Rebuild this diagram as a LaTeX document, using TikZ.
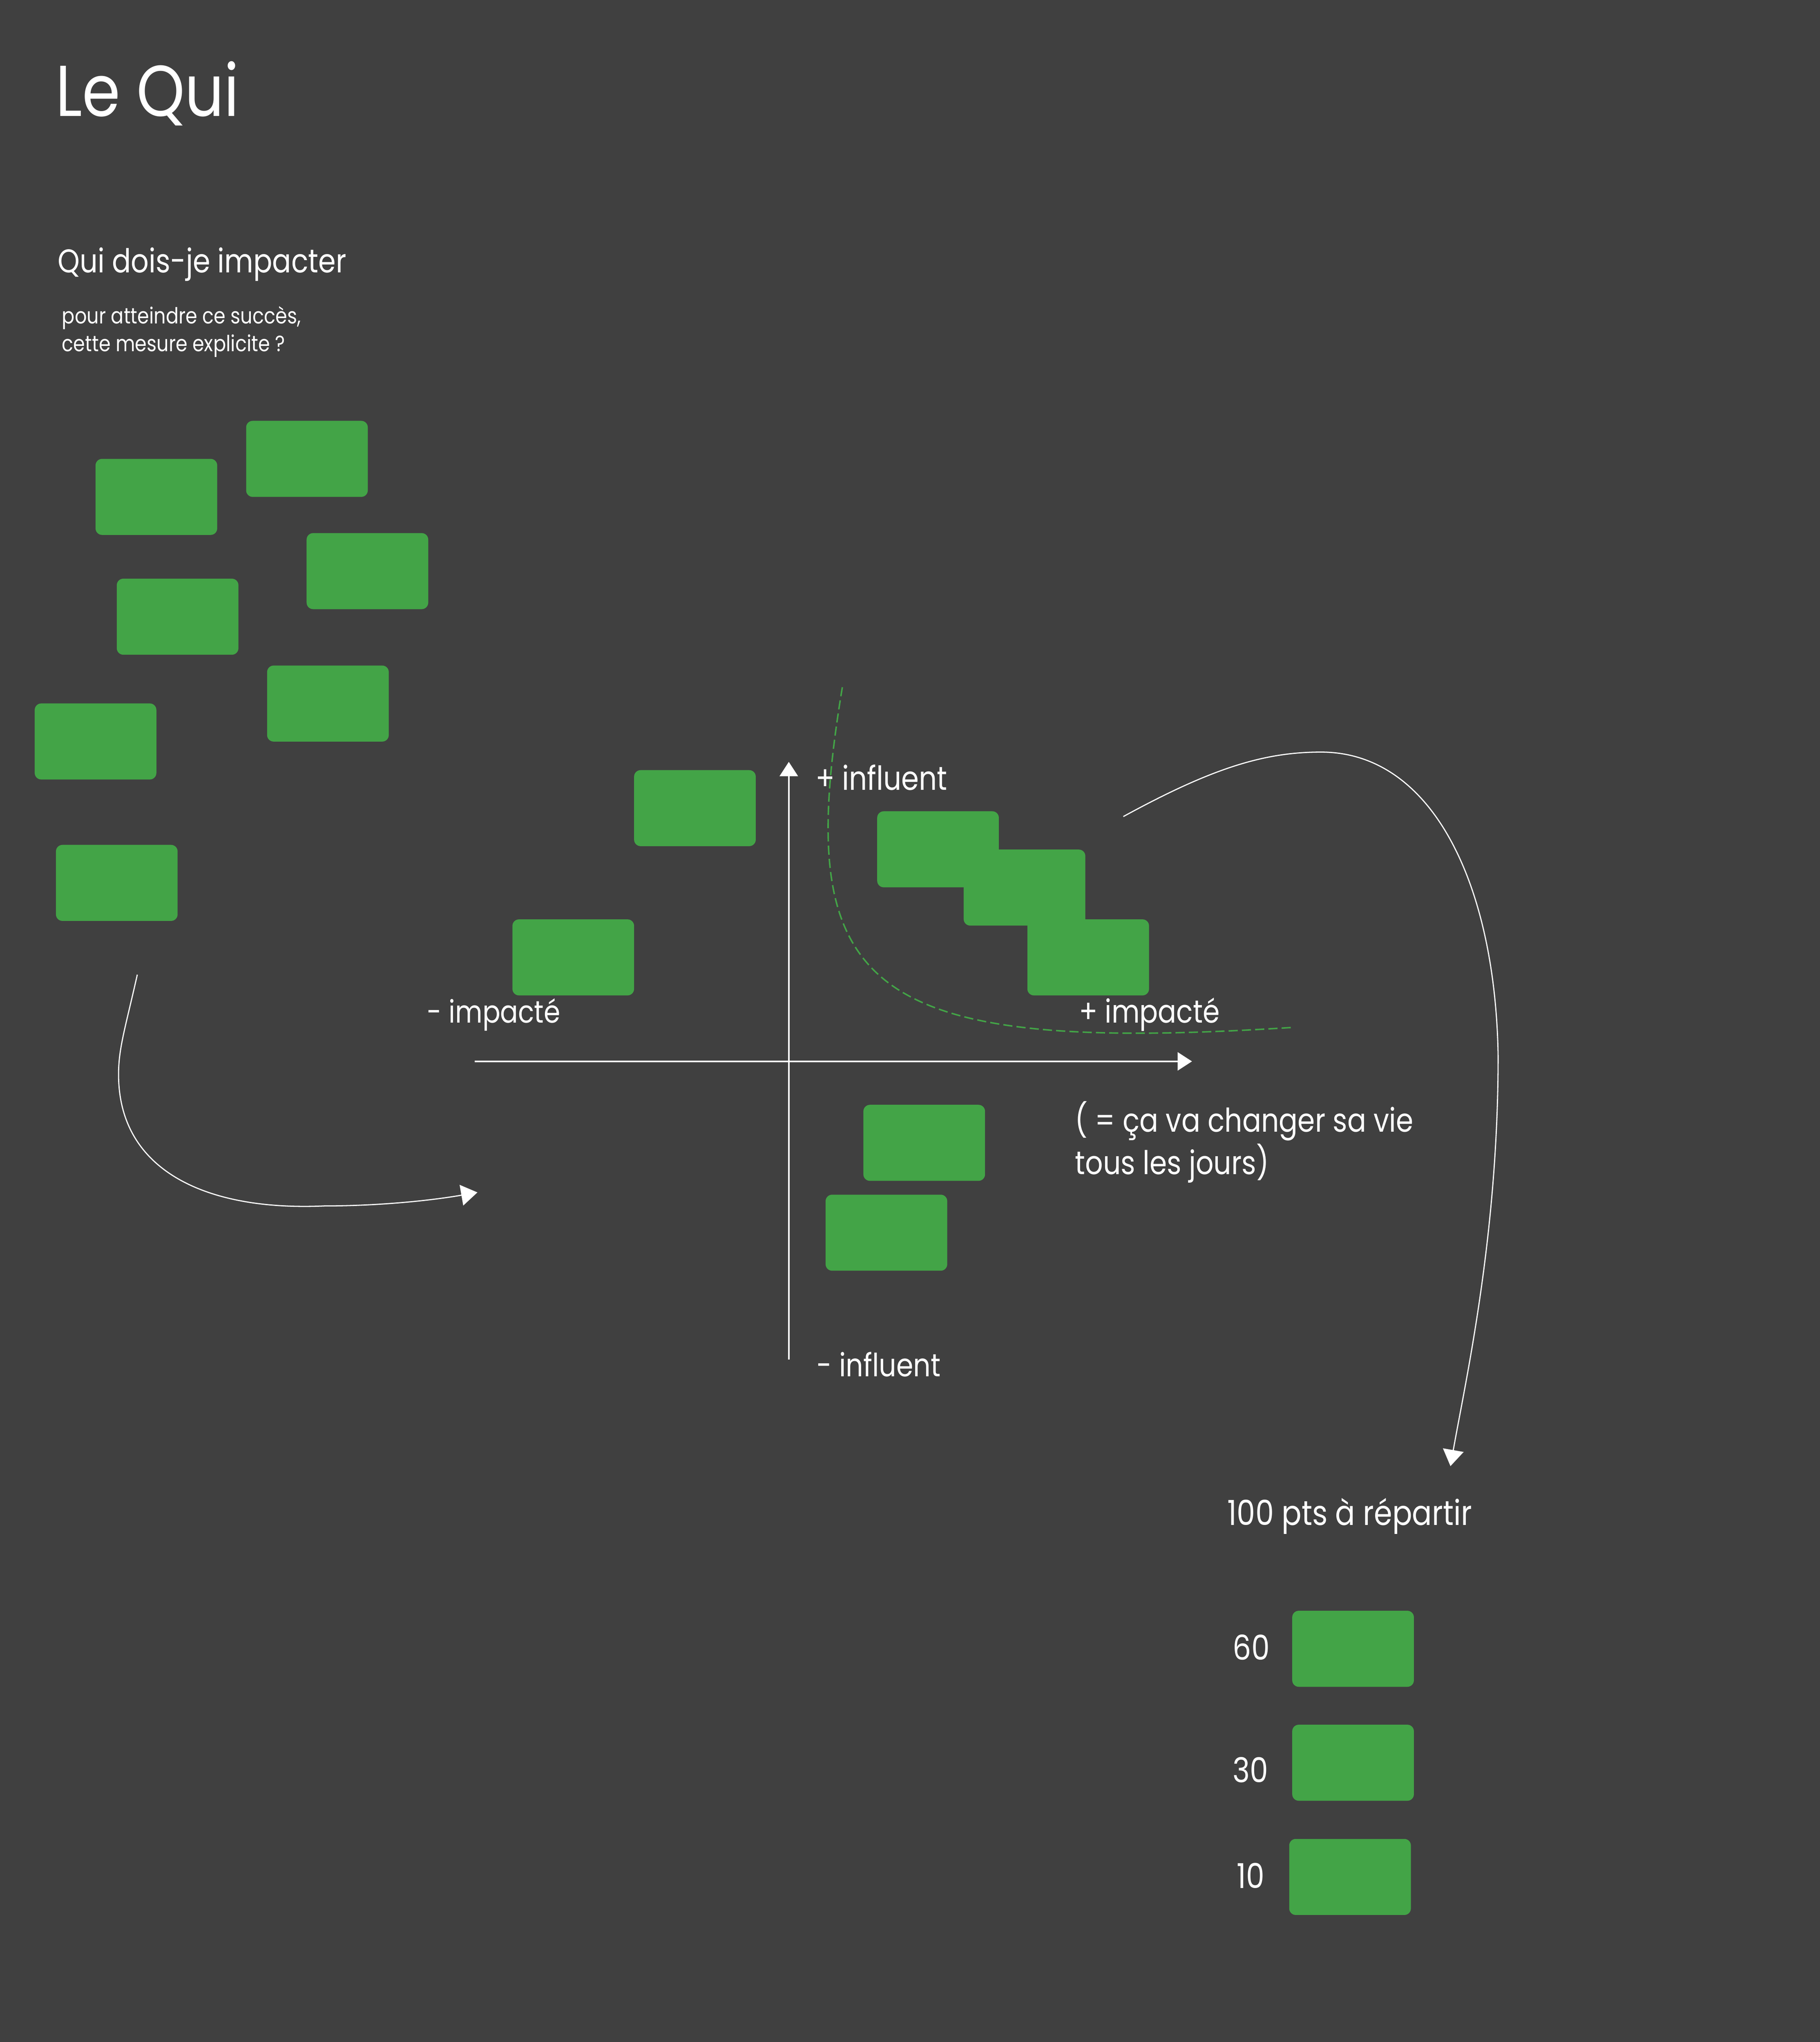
\documentclass[tikz,border=0pt]{standalone}
\usepackage{fontspec}
\setmainfont{Poppins}[FakeStretch=0.85]
\usetikzlibrary{arrows.meta}
\definecolor{slate}{HTML}{404040}
\definecolor{leaf}{HTML}{43A447}

\begin{document}
\begin{tikzpicture}[x=0.02cm, y=-0.02cm,
    card/.style={fill=leaf, rounded corners=0.1cm, minimum width=1.868cm, minimum height=1.168cm, inner sep=0pt, anchor=north west},
    txt/.style={text=white, inner sep=0pt, anchor=base west},
    axis/.style={white, line width=0.6pt, -{Triangle[length=0.22cm, width=0.28cm]}},
    swoosh/.style={white, line width=0.5pt, -{Triangle[length=0.25cm, width=0.32cm]}}]
  \fill [slate] (0,0) rectangle (1397,1568);

  % Headings
  \node [txt, font=\fontsize{31.5}{38}\selectfont] (title) at (42.5,89.3) {Le Qui};
  \node [txt, font=\fontsize{14.4}{17}\selectfont] (question) at (44,209.4) {Qui dois-je impacter};
  \node [txt, font=\fontsize{9.7}{12}\selectfont] (sub1) at (47.3,248.4) {pour atteindre ce succès,};
  \node [txt, font=\fontsize{9.7}{12}\selectfont] (sub2) at (47.3,269.9) {cette mesure explicite ?};

  % Loose cards
  \node [card] (ca) at (73,352) {};
  \node [card] (cb) at (188.6,322.8) {};
  \node [card] (cc) at (235,409) {};
  \node [card] (cd) at (89.3,444) {};
  \node [card] (ce) at (204.7,510.7) {};
  \node [card] (cf) at (26.3,539.8) {};
  \node [card] (cg) at (42.6,648.4) {};

  % Matrix
  \coordinate (top) at (605.5,585);
  \coordinate (bottom) at (605.5,1044);
  \coordinate (left) at (364.5,815);
  \coordinate (right) at (915,815);
  \draw [axis] (bottom) -- (top);
  \draw [axis] (left) -- (right);
  \node [txt, font=\fontsize{14.5}{17}\selectfont] (plusinf) at (625.6,606.7) {+ influent};
  \node [txt, font=\fontsize{14}{17}\selectfont] (moinsinf) at (626.7,1057) {- influent};
  \node [txt, font=\fontsize{13.6}{17}\selectfont] (moinsimp) at (327.5,785.5) {- impacté};
  \node [txt, font=\fontsize{14}{17}\selectfont] (plusimp) at (828,785.5) {+ impacté};
  \node [txt, font=\fontsize{14.3}{17}\selectfont] (note1) at (825,869) {( = ça va changer sa vie};
  \node [txt, font=\fontsize{14.3}{17}\selectfont] (note2) at (825,901.7) {tous les jours)};

  \node [card] (m1) at (486.4,591) {};
  \node [card] (m2) at (393,705.6) {};
  \node [card] (m3) at (673,622.6) {};
  \node [card] (m4) at (739.4,652) {};
  \node [card] (m5) at (788.3,705.6) {};
  \node [card] (m6) at (662.4,848) {};
  \node [card] (m7) at (633.4,917) {};

  % Frontier
  \coordinate (fa) at (646.6,527.7);
  \coordinate (fb) at (991,789);
  \draw [leaf, line width=0.65pt, dash pattern=on 4pt off 1.8pt] (fa) .. controls (608,760) and (660,810) .. (fb);

  % Ranking
  \node [txt, font=\fontsize{15.1}{18}\selectfont] (points) at (942,1171) {100 pts à répartir};
  \node [card] (r1) at (991.6,1236.5) {};
  \node [card] (r2) at (991.6,1324) {};
  \node [card] (r3) at (989.3,1411.7) {};
  \node [txt, font=\fontsize{15}{18}\selectfont] (n60) at (946,1274.6) {60};
  \node [txt, font=\fontsize{15}{18}\selectfont] (n30) at (946,1368.6) {30};
  \node [txt, font=\fontsize{15}{18}\selectfont] (n10) at (949,1450) {10};

  % Flows
  \coordinate (la) at (105.4,748.4);
  \coordinate (lb) at (91,825);
  \coordinate (lc) at (249,926);
  \coordinate (ld) at (366.5,915.6);
  \draw [swoosh] (la) .. controls (96,790) and (91,805) .. (lb)
    .. controls (91,900) and (160,930) .. (lc)
    .. controls (290,926) and (330,922) .. (ld);
  \coordinate (ra) at (862.3,627);
  \coordinate (rb) at (1014,577.5);
  \coordinate (rc) at (1150,811);
  \coordinate (rd) at (1113.4,1125.8);
  \draw [swoosh] (ra) .. controls (930,590) and (970,577.5) .. (rb)
    .. controls (1100,577.5) and (1148,680) .. (rc)
    .. controls (1150,950) and (1125,1060) .. (rd);
\end{tikzpicture}
\end{document}
